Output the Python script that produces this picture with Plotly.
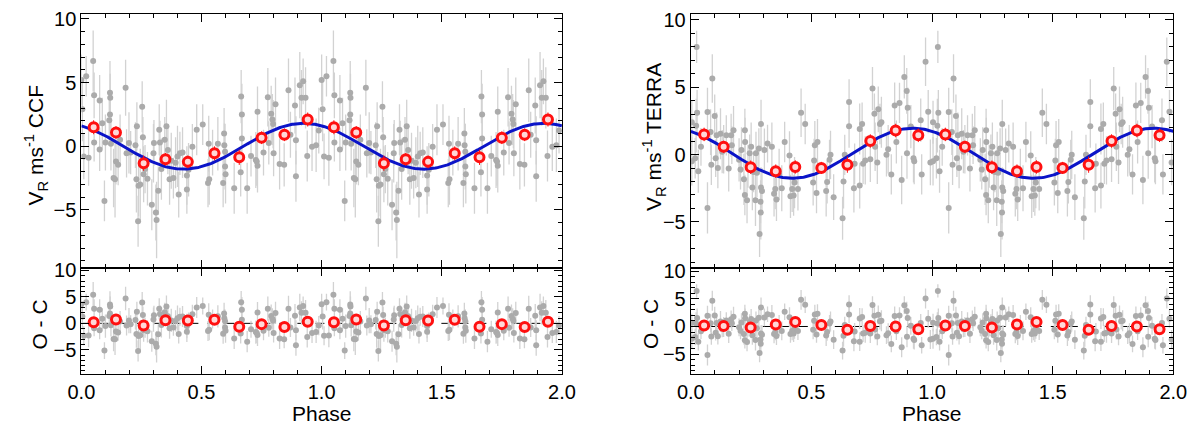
import numpy as np
import plotly.graph_objects as go

# gray points, one phase cycle (repeated for phase 1-2)
ccf_phase = [
    0.000, 0.004, 0.010, 0.020, 0.030, 0.049, 0.053, 0.053, 0.076, 0.076,
    0.087, 0.096, 0.100, 0.116, 0.119, 0.119, 0.120, 0.123, 0.134, 0.140,
    0.144, 0.153, 0.161, 0.184, 0.188, 0.198, 0.205, 0.225, 0.229, 0.231,
    0.236, 0.238, 0.245, 0.253, 0.256, 0.259, 0.265, 0.275, 0.293, 0.300,
    0.302, 0.310, 0.313, 0.320, 0.324, 0.327, 0.333, 0.347, 0.354, 0.360,
    0.367, 0.374, 0.383, 0.392, 0.400, 0.405, 0.410, 0.421, 0.439, 0.439,
    0.446, 0.462, 0.480, 0.505, 0.527, 0.530, 0.532, 0.546, 0.568, 0.590,
    0.594, 0.595, 0.598, 0.598, 0.600, 0.636, 0.663, 0.665, 0.668, 0.668,
    0.690, 0.706, 0.726, 0.730, 0.733, 0.733, 0.758, 0.776, 0.780, 0.790,
    0.795, 0.798, 0.800, 0.808, 0.825, 0.844, 0.862, 0.870, 0.889, 0.893,
    0.893, 0.909, 0.916, 0.923, 0.933, 0.940, 0.960, 0.977, 0.988]
ccf_rv = [
    5.2, 2.9, -0.8, 5.5, -0.9, 6.7, 4.0, 0.3, 3.6, -0.25,
    1.8, -4.3, 0.3, 2.05, 4.2, 2.5, 3.8, 0.2, -2.5, -2.6,
    -1.2, -1.46, 0.5, 4.6, -0.56, 0.26, -0.5, 0.08, -2.6, 1.56,
    -5.9, -3.1, -3.0, 3.1, 0.7, -2.2, -1.8, -2.56, -4.6, -0.56,
    0.26, -5.2, -5.8, -3.5, 1.3, 0.3, -1.8, 0.5, 1.56, -0.3,
    -2.6, -1.15, -2.5, -1.3, -0.8, -3.8, -0.56, -0.5, -2.3, -3.4,
    -1.85, -0.05, 1.3, 1.7, -2.9, 0.2, -2.6, -0.5, 0.2, -2.9,
    1.0, 0.08, -0.44, -1.6, -2.2, -3.3, -2.05, 3.9, 2.5, 0.6,
    -3.3, -0.77, -1.08, -1.2, -1.54, 2.7, -0.5, 3.85, 0.26, 2.56,
    2.1, 1.74, -0.56, 3.3, -1.4, -1.46, 4.4, 0.9, 3.2, 0.46,
    -2.36, 4.8, 3.8, 5.1, 3.8, -0.77, -0.05, 0.08, 1.23]
ccf_err = [
    2.0, 2.5, 1.8, 1.6, 2.2, 2.4, 1.8, 1.5, 2.0, 1.7,
    2.0, 1.6, 2.2, 1.8, 2.5, 1.7, 1.9, 2.1, 2.3, 3.0,
    1.8, 1.6, 2.0, 2.2, 1.9, 2.4, 1.7, 1.8, 2.6, 1.9,
    2.0, 2.4, 2.8, 2.0, 1.6, 2.2, 1.9, 2.1, 2.0, 2.3,
    1.8, 2.2, 3.0, 1.9, 2.0, 1.7, 2.4, 1.8, 2.1, 1.9,
    2.0, 2.2, 1.6, 2.0, 2.4, 1.8, 1.7, 2.0, 2.3, 1.9,
    2.1, 1.8, 2.0, 1.6, 1.9, 2.2, 2.0, 1.8, 2.1, 1.9,
    2.0, 1.7, 2.2, 1.8, 2.3, 2.0, 1.9, 2.1, 2.4, 1.8,
    2.0, 1.6, 2.2, 1.9, 2.1, 2.0, 1.8, 2.3, 1.7, 2.2,
    2.0, 1.9, 1.8, 2.1, 2.0, 1.7, 2.5, 1.8, 2.2, 1.9,
    2.0, 2.6, 2.2, 1.8, 2.4, 2.0, 1.9, 2.1, 1.8]

terra_phase = [
    0.004, 0.004, 0.018, 0.022, 0.024, 0.026, 0.031, 0.042, 0.069, 0.069,
    0.082, 0.085, 0.089, 0.099, 0.103, 0.107, 0.112, 0.123, 0.130, 0.136,
    0.147, 0.157, 0.167, 0.170, 0.177, 0.200, 0.206, 0.210, 0.220, 0.224,
    0.225, 0.224, 0.233, 0.237, 0.244, 0.250, 0.255, 0.260, 0.268, 0.270,
    0.274, 0.282, 0.285, 0.289, 0.290, 0.291, 0.291, 0.295, 0.305, 0.318,
    0.336, 0.345, 0.350, 0.355, 0.366, 0.377, 0.389, 0.409, 0.413, 0.420,
    0.426, 0.430, 0.444, 0.457, 0.474, 0.507, 0.511, 0.514, 0.521, 0.525,
    0.561, 0.565, 0.575, 0.579, 0.592, 0.629, 0.633, 0.638, 0.656, 0.656,
    0.676, 0.679, 0.700, 0.700, 0.710, 0.714, 0.723, 0.744, 0.753, 0.761,
    0.764, 0.773, 0.777, 0.784, 0.790, 0.811, 0.818, 0.831, 0.845, 0.852,
    0.865, 0.874, 0.885, 0.895, 0.896, 0.899, 0.912, 0.923, 0.926, 0.953,
    0.957, 0.973, 0.984, 0.993]
terra_rv = [
    2.4, -0.5, -0.27, 2.15, 8.0, 3.1, -1.23, 0.58, -3.96, 3.16,
    1.67, -0.75, 5.65, 2.87, -0.27, 1.43, -1.0, 1.55, 0.22, 0.4,
    1.43, -1.04, 1.43, 0.7, 1.8, -0.39, -1.1, 0.34, -1.84, 1.8,
    0.94, -3.0, -3.4, -0.87, 0.1, 0.58, -2.44, -1.3, -3.4, 0.1,
    -1.35, 0.46, -5.9, -3.5, -4.3, 2.27, -2.44, -2.7, 0.34, 0.82,
    0.58, -2.9, -2.56, -3.33, -1.47, -2.5, 0.94, -0.07, -3.1, -2.56,
    -3.04, -2.08, -2.56, 3.1, 2.27, -2.08, -0.43, 0.7, -2.85, 0.94,
    -2.7, -2.03, -0.39, -0.02, -3.16, -4.73, -2.0, -0.02, 3.9, 2.1,
    -2.5, -0.68, -2.3, 1.9, 2.27, -0.68, -0.43, -0.34, 4.9, 3.04,
    0.58, -0.58, 3.36, 2.27, 2.4, -0.02, 0.39, -1.47, 3.65, 0.94,
    3.84, -1.88, 5.77, 4.73, 0.1, 3.48, 2.08, -0.27, -0.5, 2.56,
    -1.47, 6.9, 3.19, -0.58]
terra_err = [
    1.6, 1.8, 1.5, 2.0, 1.2, 1.7, 1.6, 1.4, 1.9, 1.8,
    1.7, 1.5, 1.8, 1.6, 1.4, 1.7, 1.5, 1.9, 1.6, 1.8,
    1.5, 1.7, 1.6, 1.4, 1.8, 1.6, 1.5, 1.7, 1.9, 1.6,
    1.8, 1.5, 1.7, 1.6, 1.4, 1.8, 1.7, 1.5, 1.9, 1.6,
    1.8, 1.5, 1.7, 1.6, 2.0, 1.8, 1.5, 1.7, 1.6, 1.4,
    1.8, 1.7, 1.5, 1.6, 1.9, 1.7, 1.5, 1.8, 1.6, 1.7,
    1.5, 1.9, 1.6, 1.8, 1.5, 1.7, 1.6, 1.8, 1.5, 1.7,
    1.9, 1.6, 1.5, 1.8, 1.7, 1.6, 2.0, 1.5, 1.7, 1.6,
    1.8, 1.5, 1.7, 1.9, 1.6, 1.5, 1.8, 1.7, 1.6, 1.5,
    1.8, 1.6, 1.7, 1.5, 1.9, 1.6, 1.8, 1.5, 1.7, 1.6,
    1.5, 1.8, 1.6, 1.7, 1.9, 1.5, 1.6, 1.8, 1.7, 1.6,
    1.5, 1.8, 1.6, 1.7]

# binned (red) points
ccf_bin_phase = [0.051, 0.144, 0.259, 0.350, 0.443, 0.554, 0.657, 0.750, 0.845, 0.942]
ccf_bin_rv = [1.49, 1.08, -1.33, -1.03, -1.23, -0.56, -0.87, 0.67, 0.90, 2.10]
ccf_bin_err = [0.55, 0.5, 0.6, 0.5, 0.5, 0.55, 0.6, 0.5, 0.5, 0.55]
terra_bin_phase = [0.055, 0.136, 0.248, 0.352, 0.433, 0.541, 0.649, 0.744, 0.849, 0.943]
terra_bin_rv = [1.50, 0.58, -0.94, -1.23, -0.92, -0.99, -0.75, 1.01, 1.79, 1.43]
terra_bin_err = [0.5, 0.45, 0.5, 0.5, 0.5, 0.45, 0.6, 0.5, 0.5, 0.5]

# sine fits: semi-amplitude, phase of maximum, offset
ccf_fit = (1.80, 0.925, 0.0)
terra_fit = (1.86, 0.920, 0.1)

assert len(ccf_phase) == len(ccf_rv) == len(ccf_err)
assert len(terra_phase) == len(terra_rv) == len(terra_err)


def model(ph, fit):
    k, pmax, off = fit
    return off + k * np.cos(2 * np.pi * (np.asarray(ph) - pmax))


def two(a):
    a = np.asarray(a)
    return np.concatenate([a, a + 1])


def twice(a):
    a = np.asarray(a)
    return np.concatenate([a, a])


GRAY = "#ababab"
GRAYBAR = "#d2d2d2"
RED = "#ff1010"
BLUE = "#0b14c8"
FONT = "Liberation Sans, Arial, sans-serif"

fig = go.Figure()
curve_x = np.linspace(0, 2, 400)

panels = [
    (ccf_phase, ccf_rv, ccf_err, ccf_bin_phase, ccf_bin_rv, ccf_bin_err, ccf_fit, "x", "y", "x2", "y2"),
    (terra_phase, terra_rv, terra_err, terra_bin_phase, terra_bin_rv, terra_bin_err, terra_fit, "x3", "y3", "x4", "y4"),
]

for ph, rv, err, bph, brv, berr, fit, xt, yt, xb, yb in panels:
    res = np.asarray(rv) - model(ph, fit)
    bres = np.asarray(brv) - model(bph, fit)
    for yvals, bvals, xa, ya in [(rv, brv, xt, yt), (res, bres, xb, yb)]:
        fig.add_trace(go.Scatter(
            x=two(ph), y=twice(yvals), mode="markers", xaxis=xa, yaxis=ya,
            marker=dict(color=GRAY, size=6),
            error_y=dict(type="data", array=twice(err), color=GRAYBAR, thickness=1.3, width=0),
            showlegend=False, hoverinfo="skip"))
        if ya == yt:
            fig.add_trace(go.Scatter(
                x=curve_x, y=model(curve_x, fit), mode="lines", xaxis=xa, yaxis=ya,
                line=dict(color=BLUE, width=3), showlegend=False, hoverinfo="skip"))
        fig.add_trace(go.Scatter(
            x=two(bph), y=twice(bvals), mode="markers", xaxis=xa, yaxis=ya,
            marker=dict(color="#ffd8d8", size=9, line=dict(color=RED, width=3)),
            error_y=dict(type="data", array=twice(berr), color=RED, thickness=1, width=0),
            showlegend=False, hoverinfo="skip"))

axis_common = dict(
    showline=True, linecolor="black", linewidth=1.2, mirror="allticks",
    ticks="inside", ticklen=8, tickwidth=1, tickcolor="black",
    showgrid=False, zeroline=False,
    tickfont=dict(family=FONT, size=20, color="black"),
)

xdom = {"left": [69 / 1200, 561 / 1200], "right": [693 / 1200, 1187 / 1200]}
ytop = [(424 - 265) / 424, (424 - 5) / 424]
ybot = [(424 - 373) / 424, (424 - 265) / 424]

xa_kw = dict(range=[0, 2], tickvals=[0, 0.5, 1, 1.5, 2],
             minor=dict(ticks="inside", dtick=0.1, tick0=0, ticklen=4, tickcolor="black"))


def ya_kw(rng):
    return dict(range=rng, tickvals=[-5, 0, 5, 10],
                minor=dict(ticks="inside", dtick=1, tick0=0, ticklen=4, tickcolor="black"))


fig.update_layout(
    width=1200, height=424, margin=dict(l=0, r=0, t=0, b=0),
    plot_bgcolor="white", paper_bgcolor="white",
    font=dict(family=FONT, size=20, color="black"),
    xaxis=dict(**axis_common, **xa_kw, domain=xdom["left"], anchor="y", showticklabels=False),
    yaxis=dict(**axis_common, **ya_kw([-9.6, 10.4]), domain=ytop, anchor="x"),
    xaxis2=dict(**axis_common, **xa_kw, domain=xdom["left"], anchor="y2", tickformat=".1f"),
    yaxis2=dict(**axis_common, **ya_kw([-9.6, 10.4]), domain=ybot, anchor="x2"),
    xaxis3=dict(**axis_common, **xa_kw, domain=xdom["right"], anchor="y3", showticklabels=False),
    yaxis3=dict(**axis_common, **ya_kw([-8.45, 10.45]), domain=ytop, anchor="x3"),
    xaxis4=dict(**axis_common, **xa_kw, domain=xdom["right"], anchor="y4", tickformat=".1f"),
    yaxis4=dict(**axis_common, **ya_kw([-8.6, 10.5]), domain=ybot, anchor="x4"),
)

# dashed zero line in the O-C panels
for xr, yr in [("x2", "y2"), ("x4", "y4")]:
    fig.add_shape(type="line", xref=xr + " domain", yref=yr, x0=0, x1=1, y0=0, y1=0,
                  line=dict(color="black", width=1, dash="dash"), layer="below")

titles = [
    ("V<sub>R</sub> ms<sup>-1</sup> CCF", 22, 139),
    ("V<sub>R</sub> ms<sup>-1</sup> TERRA", 655, 131),
    ("O - C", 26, 322),
    ("O - C", 651, 322),
]
for text, px, py in titles:
    fig.add_annotation(text=text, x=px / 1200, y=(424 - py) / 424, xref="paper", yref="paper",
                       textangle=-90, showarrow=False, xanchor="center", yanchor="middle",
                       font=dict(family=FONT, size=21, color="black"))
for px in [315, 940]:
    fig.add_annotation(text="Phase", x=px / 1200, y=(424 - 413) / 424, xref="paper", yref="paper",
                       showarrow=False, xanchor="center", yanchor="middle",
                       font=dict(family=FONT, size=21, color="black"))

fig.write_html("out.html", config={"displayModeBar": False},
               post_script="document.body.style.margin = '0px';")
